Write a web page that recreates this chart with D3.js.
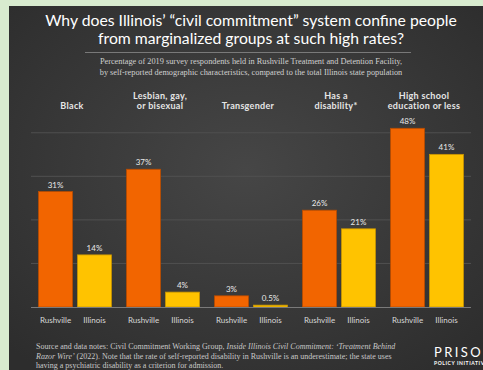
<!DOCTYPE html>
<html>
<head>
<meta charset="utf-8">
<script src="https://cdn.jsdelivr.net/npm/d3@7"></script>
<style>
  html, body { margin: 0; padding: 0; background: #d8ebcf; }
  svg { display: block; }
</style>
</head>
<body>
<div id="chart"></div>
<script>
const WIDTH = 483;
const HEIGHT = 370;

// data
const CATEGORIES = ["Black", "Lesbian, gay,\nor bisexual", "Transgender", "Has a\ndisability*", "High school\neducation or less"];
const SERIES = ["Rushville", "Illinois"];
const RUSHVILLE = [31, 37, 3, 26, 48];
const ILLINOIS = [14, 4, 0.5, 21, 41];
const VALUE_LABELS_R = ["31%", "37%", "3%", "26%", "48%"];
const VALUE_LABELS_I = ["14%", "4%", "0.5%", "21%", "41%"];
const GRID_VALUES = [11.7, 23.4, 35.1, 46.8];

const TITLE = ["Why does Illinois\u2019 \u201ccivil commitment\u201d system confine people",
               "from marginalized groups at such high rates?"];
const SUBTITLE = ["Percentage of 2019 survey respondents held in Rushville Treatment and Detention Facility,",
                  "by self-reported demographic characteristics, compared to the total Illinois state population"];

const COLORS = {Rushville: "#f26500", Illinois: "#ffc300"};
const STROKES = {Rushville: "#b84c00", Illinois: "#c99500"};

const BASELINE = 307;
const PLOT_LEFT = 31, PLOT_RIGHT = 471;

const svg = d3.select("#chart").append("svg")
    .attr("width", WIDTH)
    .attr("height", HEIGHT);

const defs = svg.append("defs");
const grad = defs.append("radialGradient")
    .attr("id", "bg")
    .attr("cx", "50%").attr("cy", "45%").attr("r", "70%");
grad.append("stop").attr("offset", "0%").attr("stop-color", "#464646");
grad.append("stop").attr("offset", "100%").attr("stop-color", "#2d2d2d");

// panel
svg.append("rect")
    .attr("x", 9).attr("y", 6)
    .attr("width", WIDTH - 9).attr("height", HEIGHT - 6)
    .attr("fill", "url(#bg)");

// title - sized so the first line is ~412px wide
const title = svg.append("g").selectAll("text")
    .data(TITLE)
    .join("text")
    .attr("x", 251)
    .attr("y", (d, i) => 26 + i * 18)
    .attr("text-anchor", "middle")
    .style("font-family", "Lato, sans-serif")
    .style("font-size", "16px")
    .attr("fill", "#ffffff")
    .text(d => d);
const w0 = title.node().getComputedTextLength();
title.style("font-size", (16 * 412 / w0) + "px");

svg.append("line")
    .attr("x1", 85).attr("x2", 411)
    .attr("y1", 52.5).attr("y2", 52.5)
    .attr("stroke", "#8a8a8a")
    .attr("stroke-width", 0.8);

svg.append("g").selectAll("text")
    .data(SUBTITLE)
    .join("text")
    .attr("x", 251)
    .attr("y", (d, i) => 64 + i * 10.5)
    .attr("text-anchor", "middle")
    .style("font-family", "'Liberation Serif', serif")
    .style("font-size", "8.3px")
    .attr("fill", "#d0d0d0")
    .text(d => d);

// scales
const x0 = d3.scaleBand()
    .domain(CATEGORIES)
    .range([PLOT_LEFT, PLOT_RIGHT])
    .paddingInner(0.16)
    .paddingOuter(0.08);

const x1 = d3.scaleBand()
    .domain(SERIES)
    .range([0, x0.bandwidth()])
    .paddingInner(0.1026);

const y = d3.scaleLinear()
    .domain([0, 48])
    .range([BASELINE, BASELINE - 178.7]);

// grid
svg.append("g").selectAll("line")
    .data(GRID_VALUES)
    .join("line")
    .attr("x1", PLOT_LEFT).attr("x2", PLOT_RIGHT)
    .attr("y1", d => y(d)).attr("y2", d => y(d))
    .attr("stroke", "#505050")
    .attr("stroke-width", 1);

// category labels
const catG = svg.append("g");
CATEGORIES.forEach(c => {
  const lines = c.split("\n");
  const cx = x0(c) + x0.bandwidth() / 2 - 3;
  const t = catG.append("text")
      .attr("text-anchor", "middle")
      .style("font-family", "Lato, sans-serif")
      .style("font-weight", "bold")
      .style("font-size", "9px")
      .style("letter-spacing", "0.3px")
      .attr("fill", "#e6e6e6");
  lines.forEach((l, i) => {
    t.append("tspan")
        .attr("x", cx)
        .attr("y", 109 - (lines.length - 1 - i) * 10.5)
        .text(l);
  });
});

// bars
const rows = CATEGORIES.map((c, i) => ({
  cat: c,
  values: [
    {series: "Rushville", value: RUSHVILLE[i], label: VALUE_LABELS_R[i]},
    {series: "Illinois", value: ILLINOIS[i], label: VALUE_LABELS_I[i]}
  ]
}));

const groups = svg.append("g").selectAll("g")
    .data(rows)
    .join("g")
    .attr("transform", d => "translate(" + x0(d.cat) + ",0)");

groups.selectAll("rect")
    .data(d => d.values)
    .join("rect")
    .attr("x", d => x1(d.series) + 0.5)
    .attr("y", d => y(d.value))
    .attr("width", x1.bandwidth() - 1)
    .attr("height", d => BASELINE - y(d.value))
    .attr("fill", d => COLORS[d.series])
    .attr("stroke", d => STROKES[d.series])
    .attr("stroke-width", 0.8);

groups.selectAll("text.val")
    .data(d => d.values)
    .join("text")
    .attr("class", "val")
    .attr("x", d => x1(d.series) + x1.bandwidth() / 2)
    .attr("y", d => y(d.value) - 4)
    .attr("text-anchor", "middle")
    .style("font-family", "Lato, sans-serif")
    .style("font-size", "8px")
    .attr("fill", "#e8e8e8")
    .text(d => d.label);

groups.selectAll("text.ser")
    .data(d => d.values)
    .join("text")
    .attr("class", "ser")
    .attr("x", d => x1(d.series) + x1.bandwidth() / 2)
    .attr("y", BASELINE + 16)
    .attr("text-anchor", "middle")
    .style("font-family", "Lato, sans-serif")
    .style("font-size", "8px")
    .attr("fill", "#d8d8d8")
    .text(d => d.series);

// baseline
svg.append("line")
    .attr("x1", PLOT_LEFT).attr("x2", PLOT_RIGHT)
    .attr("y1", BASELINE + 0.5).attr("y2", BASELINE + 0.5)
    .attr("stroke", "#7a7a7a")
    .attr("stroke-width", 1);

// footer notes
const note = svg.append("text")
    .style("font-family", "'Liberation Serif', serif")
    .style("font-size", "8px")
    .attr("fill", "#c8c8c8");
const noteLines = [
  [["Source and data notes: Civil Commitment Working Group, ", false], ["Inside Illinois Civil Commitment: \u2018Treatment Behind", true]],
  [["Razor Wire\u2019", true], [" (2022). Note that the rate of self-reported disability in Rushville is an underestimate; the state uses", false]],
  [["having a psychiatric disability as a criterion for admission.", false]]
];
noteLines.forEach((parts, i) => {
  parts.forEach((p, j) => {
    const ts = note.append("tspan")
        .style("font-style", p[1] ? "italic" : "normal")
        .text(p[0]);
    if (j === 0) ts.attr("x", 36).attr("y", 349 + i * 9.6);
  });
});

// logo (cut off at the right edge, as in the original)
svg.append("text")
    .attr("x", 434).attr("y", 357)
    .style("font-family", "Lato, sans-serif")
    .style("font-size", "13px")
    .style("letter-spacing", "2.4px")
    .attr("fill", "#ffffff")
    .text("PRISON");
svg.append("text")
    .attr("x", 434).attr("y", 365)
    .style("font-family", "Lato, sans-serif")
    .style("font-weight", "bold")
    .style("font-size", "5px")
    .style("letter-spacing", "0.6px")
    .attr("fill", "#ffffff")
    .text("POLICY INITIATIVE");
</script>
</body>
</html>
